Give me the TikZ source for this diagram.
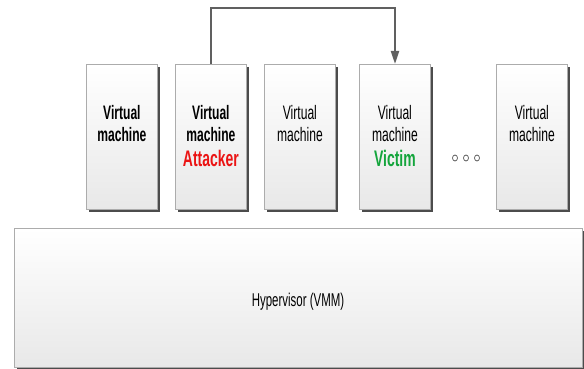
\documentclass[tikz,border=0pt]{standalone}
\usepackage{fontspec}
\setmainfont{Liberation Sans}[FakeStretch=0.62]
\usetikzlibrary{arrows.meta,shadows,shapes.geometric}
\definecolor{atk}{RGB}{235,20,20}
\definecolor{vic}{RGB}{20,165,60}
\newcommand{\vmtagfont}{\bfseries\fontsize{22.5}{22}\selectfont}
\begin{document}
\begin{tikzpicture}[x=1pt,y=1pt,
  vmbox/.style={draw=gray!65, line width=0.8pt, top color=white, bottom color=gray!18,
     minimum width=71pt, minimum height=145pt, inner sep=0pt, anchor=north west,
     drop shadow={shadow xshift=3pt, shadow yshift=-3pt, fill=black!70, opacity=1}},
  vmtext/.style={font=\fontsize{19.5}{22}\selectfont, align=center, anchor=north, inner sep=0pt},
  link/.style={draw=gray!75!black, line width=2pt}]
\useasboundingbox (0,0) rectangle (584,369);
% virtual machines
\node[vmbox] (vm1) at (86,305) {};
\node[vmbox] (vm2) at (175,305) {};
\node[vmbox] (vm3) at (264,305) {};
\node[vmbox] (vm4) at (359,305) {};
\node[vmbox] (vm5) at (496,305) {};
% hypervisor
\node[draw=gray!65, line width=0.8pt, top color=white, bottom color=gray!18,
  minimum width=568pt, minimum height=139pt, inner sep=0pt, anchor=north west,
  drop shadow={shadow xshift=3pt, shadow yshift=-3pt, fill=black!70, opacity=1}]
  (hyp) at (14,141) {};
\node[font=\fontsize{18.5}{20}\selectfont, inner sep=0pt, anchor=base] (hyptext) at (298,62) {Hypervisor (VMM)};
% texts
\node[vmtext] (t1) at ([yshift=-41pt]vm1.north) {\bfseries Virtual\\\bfseries machine};
\node[vmtext] (t2) at ([yshift=-41pt]vm2.north) {\bfseries Virtual\\\bfseries machine\\[3pt]{\vmtagfont\color{atk}Attacker}};
\node[vmtext] (t3) at ([yshift=-41pt]vm3.north) {Virtual\\machine};
\node[vmtext] (t4) at ([yshift=-41pt]vm4.north) {Virtual\\machine\\[3pt]{\vmtagfont\color{vic}Victim}};
\node[vmtext] (t5) at ([yshift=-41pt]vm5.north) {Virtual\\machine};
% dots
\foreach \i/\xx in {1/455,2/466,3/477}
  \node[draw=gray!70!black, line width=0.7pt, ellipse, inner sep=0pt, minimum width=5pt, minimum height=6pt] (d\i) at (\xx,211) {};
% connector
\coordinate (c1) at (211,361);
\coordinate (c2) at (395,361);
\draw[link, -{Triangle[length=13pt,width=8pt]}]
  (vm2.north -| c1) -- (c1) -- (c2) -- (vm4.north -| c2);
\end{tikzpicture}
\end{document}
